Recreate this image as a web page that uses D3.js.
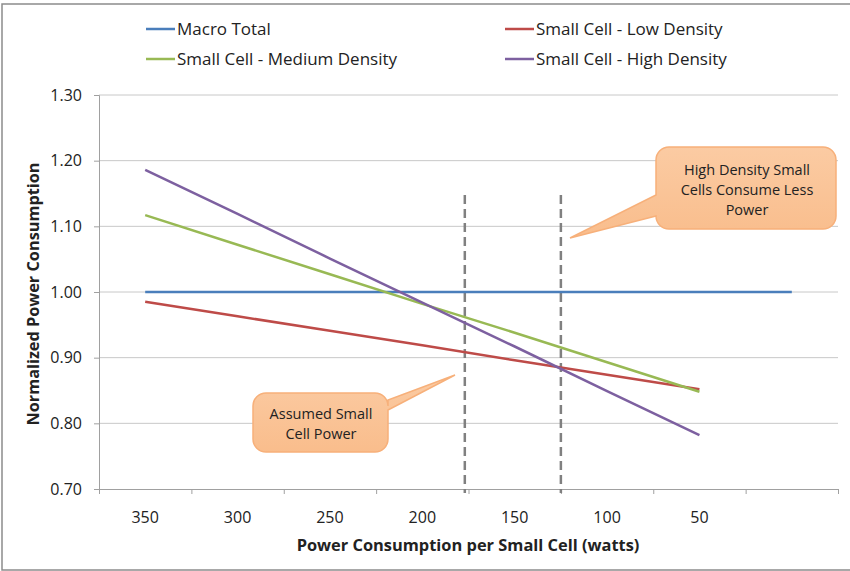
<html>
<head>
<meta charset="utf-8">
<style>
    body { margin: 0; background: #fff; }
    svg { display: block; }
    text { font-family: "Open Sans", "Liberation Sans", sans-serif; fill: #222; }
</style>
</head>
<body>
<svg id="chart" width="850" height="571"></svg>
<script src="https://d3js.org/d3.v7.min.js"></script>
<script>
    // watts per small cell; the last (0) category is blank in the original chart
    var categories = [350, 300, 250, 200, 150, 100, 50, 0];
    var tickLabels = ["350", "300", "250", "200", "150", "100", "50", ""];
    var yTicks = [0.70, 0.80, 0.90, 1.00, 1.10, 1.20, 1.30];

    var macroTotal = [1.00, 1.00, 1.00, 1.00, 1.00, 1.00, 1.00, 1.00];
    var lowDensity = [0.985, 0.963, 0.941, 0.919, 0.896, 0.874, 0.852];
    var mediumDensity = [1.117, 1.072, 1.027, 0.982, 0.938, 0.893, 0.848];
    var highDensity = [1.186, 1.119, 1.051, 0.984, 0.917, 0.849, 0.782];

    var seriesNames = ["Macro Total", "Small Cell - Low Density", "Small Cell - Medium Density", "Small Cell - High Density"];
    var seriesColors = ["#4a7ebb", "#be4b48", "#98b954", "#7d60a0"];

    // dashed reference lines (watts)
    var markerWatts = [177, 125];

    var W = 850;
    var plotLeft = 99, plotRight = 838, plotTop = 95, plotBottom = 489;

    var svg = d3.select("#chart");

    // chart border
    svg.append("path")
        .attr("d", "M" + (W + 2) + ",4H2V570H" + (W + 2))
        .attr("fill", "none")
        .attr("stroke", "#8c8c8c")
        .attr("stroke-width", 1.5);

    var x = d3.scaleLinear().domain([375, -25]).range([plotLeft, plotRight]);
    var y = d3.scaleLinear().domain([0.7, 1.3]).range([plotBottom, plotTop]);

    // gridlines
    svg.append("g").selectAll("line")
        .data(yTicks.slice(1))
        .enter().append("line")
        .attr("x1", plotLeft).attr("x2", plotRight)
        .attr("y1", function (d) { return y(d); })
        .attr("y2", function (d) { return y(d); })
        .attr("stroke", "#c8c8c8")
        .attr("stroke-width", 1);

    // y axis
    var yAxis = svg.append("g")
        .attr("transform", "translate(" + plotLeft + ",0)")
        .call(d3.axisLeft(y).tickValues(yTicks).tickFormat(d3.format(".2f")).tickSize(5).tickPadding(12));
    yAxis.select(".domain").attr("stroke", "#a0a0a0");
    yAxis.selectAll(".tick line").attr("stroke", "#a0a0a0");
    yAxis.selectAll(".tick text")
        .style("font-size", "16px").attr("font-family", null).attr("fill", "#262626");

    // x axis: ticks on category boundaries, labels in the middle
    var bounds = categories.map(function (c) { return c + 25; }).concat([-25]);
    var xAxis = svg.append("g")
        .attr("transform", "translate(0," + plotBottom + ")")
        .call(d3.axisBottom(x).tickValues(bounds).tickFormat("").tickSize(5).tickSizeOuter(0));
    xAxis.select(".domain").attr("stroke", "#a0a0a0");
    xAxis.selectAll(".tick line").attr("stroke", "#a0a0a0");

    svg.append("g").selectAll("text")
        .data(categories)
        .enter().append("text")
        .attr("x", function (d) { return x(d); })
        .attr("y", 523)
        .attr("text-anchor", "middle")
        .style("font-size", "16px")
        .attr("fill", "#262626")
        .text(function (d, i) { return tickLabels[i]; });

    // axis titles
    svg.append("text")
        .attr("x", 468).attr("y", 551)
        .attr("text-anchor", "middle")
        .style("font-size", "16.4px").style("font-weight", "bold")
        .text("Power Consumption per Small Cell (watts)");

    svg.append("text")
        .attr("transform", "translate(39,294) rotate(-90)")
        .attr("text-anchor", "middle")
        .style("font-size", "16.3px").style("font-weight", "bold")
        .text("Normalized Power Consumption");

    // dashed markers
    svg.append("g").selectAll("line")
        .data(markerWatts)
        .enter().append("line")
        .attr("x1", function (d) { return x(d); })
        .attr("x2", function (d) { return x(d); })
        .attr("y1", 195).attr("y2", 493)
        .attr("stroke", "#808080")
        .attr("stroke-width", 2.5)
        .attr("stroke-dasharray", "9,5");

    // series lines
    var allSeries = [macroTotal, lowDensity, mediumDensity, highDensity];
    var line = d3.line()
        .x(function (d, i) { return x(categories[i]); })
        .y(function (d) { return y(d); });

    svg.append("g").selectAll("path")
        .data(allSeries)
        .enter().append("path")
        .attr("d", line)
        .attr("fill", "none")
        .attr("stroke", function (d, i) { return seriesColors[i]; })
        .attr("stroke-width", 2.5)
        .attr("stroke-linecap", "butt");

    // legend
    var legendPos = [[146, 29], [505, 29], [146, 59], [505, 59]];
    var legend = svg.append("g").selectAll("g")
        .data(seriesNames)
        .enter().append("g")
        .attr("transform", function (d, i) { return "translate(" + legendPos[i][0] + "," + legendPos[i][1] + ")"; });
    legend.append("line")
        .attr("x1", 0).attr("x2", 29)
        .attr("stroke", function (d, i) { return seriesColors[i]; })
        .attr("stroke-width", 2.5);
    legend.append("text")
        .attr("x", 31).attr("y", 6)
        .style("font-size", "17px")
        .attr("fill", "#262626")
        .text(function (d) { return d; });

    // callouts: rounded box with a wedge pointer
    function calloutPath(bx, by, bw, bh, r, side, w1, w2, tip) {
        var x2 = bx + bw, y2 = by + bh;
        var p = "M" + (bx + r) + "," + by;
        p += "H" + (x2 - r) + "A" + r + "," + r + " 0 0 1 " + x2 + "," + (by + r);
        if (side === "right") {
            p += "V" + w1 + "L" + tip[0] + "," + tip[1] + "L" + x2 + "," + w2;
        }
        p += "V" + (y2 - r) + "A" + r + "," + r + " 0 0 1 " + (x2 - r) + "," + y2;
        p += "H" + (bx + r) + "A" + r + "," + r + " 0 0 1 " + bx + "," + (y2 - r);
        if (side === "left") {
            p += "V" + w2 + "L" + tip[0] + "," + tip[1] + "L" + bx + "," + w1;
        }
        p += "V" + (by + r) + "A" + r + "," + r + " 0 0 1 " + (bx + r) + "," + by + "Z";
        return p;
    }

    var callouts = [
        { box: [656, 147, 180, 82], side: "left", w: [195, 216], tip: [570, 238],
          lines: ["High Density Small", "Cells Consume Less", "Power"], cx: 747, ty: 175 },
        { box: [253, 393, 135, 59], side: "right", w: [400, 410], tip: [455, 375],
          lines: ["Assumed Small", "Cell Power"], cx: 321, ty: 419 }
    ];

    var grad = svg.append("defs").append("linearGradient")
        .attr("id", "peach").attr("x1", 0).attr("y1", 0).attr("x2", 0).attr("y2", 1);
    grad.append("stop").attr("offset", "0%").attr("stop-color", "#fbcba3");
    grad.append("stop").attr("offset", "100%").attr("stop-color", "#f9bd8c");

    callouts.forEach(function (c) {
        svg.append("path")
            .attr("d", calloutPath(c.box[0], c.box[1], c.box[2], c.box[3], 13, c.side, c.w[0], c.w[1], c.tip))
            .attr("fill", "url(#peach)")
            .attr("stroke", "#f7b07a")
            .attr("stroke-width", 1.5);
        svg.append("text")
            .attr("text-anchor", "middle")
            .style("font-size", "14.5px")
            .selectAll("tspan")
            .data(c.lines)
            .enter().append("tspan")
            .attr("x", c.cx)
            .attr("y", function (d, i) { return c.ty + i * 20; })
            .text(function (d) { return d; });
    });
</script>
</body>
</html>
